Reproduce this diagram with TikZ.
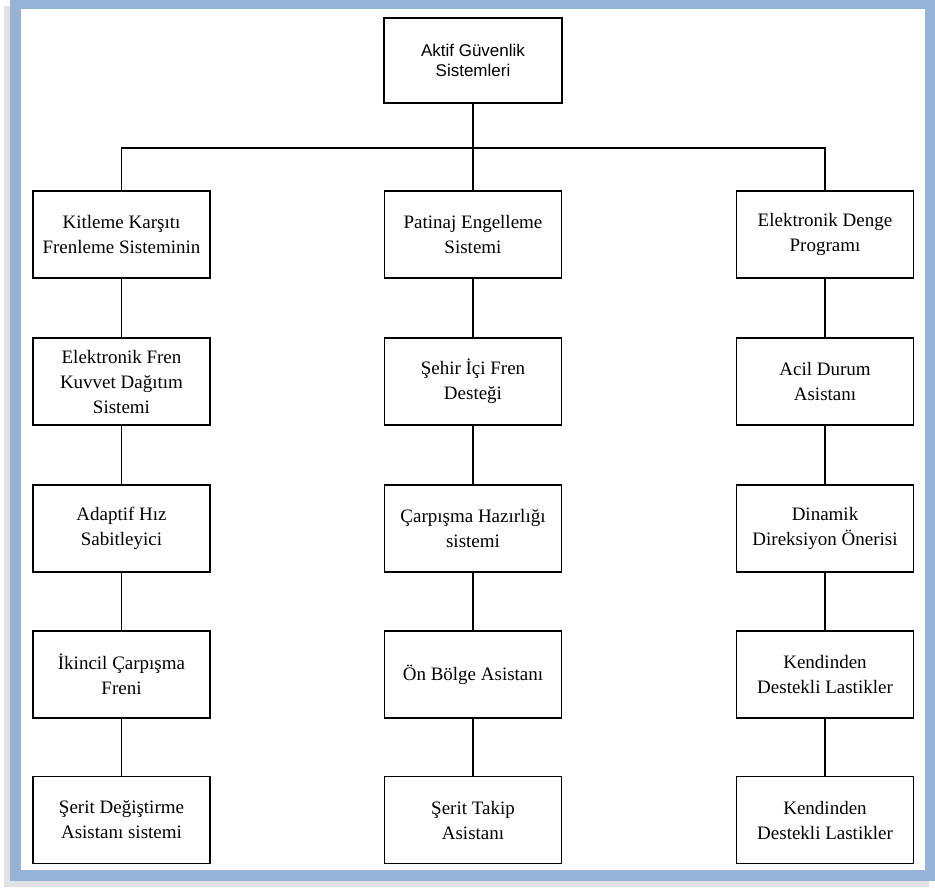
\documentclass[tikz,border=0pt]{standalone}
\usepackage{fontspec}
\setmainfont{Liberation Serif}
\newfontfamily\arialfont{Liberation Sans}
\definecolor{frameblue}{HTML}{95B3D7}
\definecolor{shadowgray}{HTML}{E2E2E2}
\begin{document}
\begin{tikzpicture}[x=1pt,y=-1pt,
  box/.style={draw=black, line width=1.8pt, fill=white, minimum width=177pt, minimum height=87pt, inner sep=0pt, align=center, font=\fontsize{19}{25}\selectfont},
  topbox/.style={box, minimum width=178pt, minimum height=85pt, font=\arialfont\fontsize{17}{20}\selectfont},
  link/.style={draw=black, line width=1.8pt}]
\useasboundingbox (0,0) rectangle (935,887);
% frame
\fill[shadowgray] (4,6) rectangle (929,887);
\fill[frameblue] (10,0) rectangle (935,881);
\fill[white] (21,9) rectangle (925,870);
% nodes
\node[topbox] (top) at (473,60.5) {Aktif Güvenlik\\Sistemleri};
\node[box] (l1) at (121.5,234.5) {Kitleme Karşıtı\\Frenleme Sisteminin};
\node[box] (l2) at (121.5,381.5) {Elektronik Fren\\Kuvvet Dağıtım\\Sistemi};
\node[box] (l3) at (121.5,528.5) {Adaptif Hız\\Sabitleyici};
\node[box] (l4) at (121.5,674.5) {İkincil Çarpışma\\Freni};
\node[box] (l5) at (121.5,820) {Şerit Değiştirme\\Asistanı sistemi};
\node[box] (m1) at (473,234.5) {Patinaj Engelleme\\Sistemi};
\node[box] (m2) at (473,381.5) {Şehir İçi Fren\\Desteği};
\node[box] (m3) at (473,528.5) {Çarpışma Hazırlığı\\sistemi};
\node[box] (m4) at (473,674.5) {Ön Bölge Asistanı};
\node[box] (m5) at (473,820) {Şerit Takip\\Asistanı};
\node[box] (r1) at (825,234.5) {Elektronik Denge\\Programı};
\node[box] (r2) at (825,381.5) {Acil Durum\\Asistanı};
\node[box] (r3) at (825,528.5) {Dinamik\\Direksiyon Önerisi};
\node[box] (r4) at (825,674.5) {Kendinden\\Destekli Lastikler};
\node[box] (r5) at (825,820) {Kendinden\\Destekli Lastikler};
% bus
\coordinate (bus) at (473,148);
\draw[link] (top.south) -- (bus);
\draw[link] (l1.north) |- (bus) -| (r1.north);
\draw[link] (bus) -- (m1.north);
% vertical links
\foreach \c in {l,m,r}{
  \draw[link] (\c1.south) -- (\c2.north);
  \draw[link] (\c2.south) -- (\c3.north);
  \draw[link] (\c3.south) -- (\c4.north);
  \draw[link] (\c4.south) -- (\c5.north);
}
\end{tikzpicture}
\end{document}
